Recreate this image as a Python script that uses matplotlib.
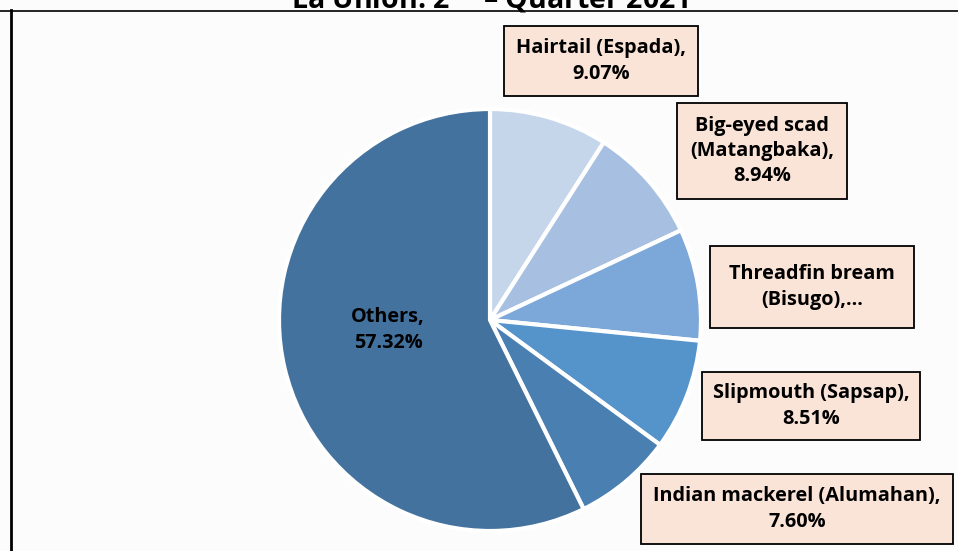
import matplotlib
matplotlib.use("Agg")
import matplotlib.pyplot as plt
from matplotlib.lines import Line2D

plt.rcParams['font.family'] = ['Open Sans', 'DejaVu Sans']
plt.rcParams['mathtext.fontset'] = 'custom'
plt.rcParams['mathtext.bf'] = 'Open Sans:bold'
plt.rcParams['mathtext.rm'] = 'Open Sans:bold'

species = ["Hairtail (Espada)", "Big-eyed scad\n(Matangbaka)", "Threadfin bream\n(Bisugo)",
           "Slipmouth (Sapsap)", "Indian mackerel (Alumahan)", "Others"]
shares = [9.07, 8.94, 8.56, 8.51, 7.60, 57.32]
colors = ["#c5d5ea", "#a7c0e2", "#7ca8d9", "#5593cb", "#4a7fb1", "#44729e"]
label_texts = ["Hairtail (Espada),\n9.07%", "Big-eyed scad\n(Matangbaka),\n8.94%",
               "Threadfin bream\n(Bisugo),…", "Slipmouth (Sapsap),\n8.51%",
               "Indian mackerel (Alumahan),\n7.60%", "Others,\n57.32%"]

W, H = 958, 551
fig = plt.figure(figsize=(W / 100, H / 100), dpi=100)
fig.patch.set_facecolor("#fcfcfc")

cx, cy, r = 490, 320, 211
ax = fig.add_axes([(cx - r) / W, (H - cy - r) / H, 2 * r / W, 2 * r / H])
ax.set_facecolor("none")
ax.pie(shares, colors=colors, startangle=90, counterclock=False, radius=1,
       wedgeprops=dict(edgecolor="white", linewidth=3))
ax.set_xlim(-1, 1)
ax.set_ylim(-1, 1)
ax.set_aspect("equal")
ax.axis("off")

# label box centers (pixels)
centers = [(601, 61), (762, 151), (812, 287), (811, 406), (797, 509), (388, 330)]
pads = [0.6, 0.65, 0.95, 0.55, 0.6, 0]
for i, (txt, (px, py)) in enumerate(zip(label_texts, centers)):
    kw = {}
    if i < 5:
        kw["bbox"] = dict(boxstyle=f"square,pad={pads[i]}", facecolor="#fae4d7",
                          edgecolor="black", linewidth=1.3)
    fig.text(px / W, 1 - py / H, txt, ha="center", va="center", fontsize=14.3,
             fontweight="bold", color="black", linespacing=1.35, **kw)

# title (top cropped)
fig.text(cx / W, 1 - 9 / H, r"La Union: 2$^{\mathbf{nd}}$ – Quarter 2021", ha="center",
         va="baseline", fontsize=20.5, fontweight="bold", color="black")

# frame lines
fig.add_artist(Line2D([0, 1], [1 - 10.5 / H, 1 - 10.5 / H], color="black", linewidth=1.2))
fig.add_artist(Line2D([11 / W, 11 / W], [0, 1 - 10 / H], color="black", linewidth=2))

fig.savefig("out.png", dpi=100, facecolor=fig.get_facecolor())
